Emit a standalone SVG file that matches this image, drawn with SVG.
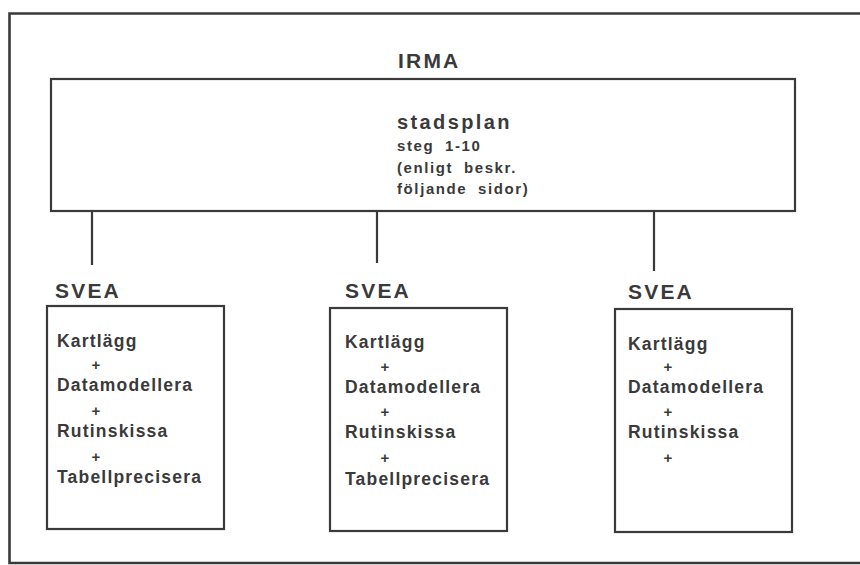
<svg xmlns="http://www.w3.org/2000/svg" width="860" height="565" viewBox="0 0 860 565">
  <style>
    .box { fill: none; stroke: #3a3a3a; stroke-width: 2.2; }
    .frame { fill: none; stroke: #3a3a3a; stroke-width: 2.6; }
    .link { stroke: #3a3a3a; stroke-width: 2.2; fill: none; }
    text { font-family: "Liberation Sans", Arial, sans-serif; font-weight: bold; fill: #3a3a3a; }
    .title { font-size: 21px; letter-spacing: 2.2px; }
    .head { font-size: 20px; letter-spacing: 2.4px; }
    .sub { font-size: 15px; letter-spacing: 1.6px; word-spacing: 5px; }
    .step { font-size: 17.5px; letter-spacing: 1.2px; }
    .plus { font-size: 15px; text-anchor: middle; }
  </style>

  <!-- page frame, open to the right -->
  <path class="frame" d="M 870 13.5 H 9.5 V 563 H 870"/>

  <!-- IRMA master plan -->
  <g id="irma">
    <text class="title" x="398" y="68">IRMA</text>
    <rect class="box" x="51" y="79" width="744" height="132"/>
    <text class="head" x="397" y="129">stadsplan</text>
    <text class="sub" x="397" y="151">steg 1-10</text>
    <text class="sub" x="397" y="173">(enligt beskr.</text>
    <text class="sub" x="397" y="194">följande sidor)</text>
  </g>

  <!-- links from IRMA down to each SVEA -->
  <g id="connectors">
    <line class="link" x1="92" y1="211" x2="92" y2="265"/>
    <line class="link" x1="377" y1="211" x2="377" y2="263"/>
    <line class="link" x1="654" y1="211" x2="654" y2="271"/>
  </g>

  <g id="svea1">
    <text class="title" x="55" y="298">SVEA</text>
    <rect class="box" x="47" y="306" width="177" height="223"/>
    <text class="step" x="57" y="347">Kartlägg</text>
    <text class="plus" x="96" y="370">+</text>
    <text class="step" x="57" y="391">Datamodellera</text>
    <text class="plus" x="96" y="416">+</text>
    <text class="step" x="57" y="437">Rutinskissa</text>
    <text class="plus" x="96" y="462">+</text>
    <text class="step" x="57" y="483">Tabellprecisera</text>
  </g>

  <g id="svea2">
    <text class="title" x="345" y="298">SVEA</text>
    <rect class="box" x="330" y="308" width="177" height="223"/>
    <text class="step" x="345" y="348">Kartlägg</text>
    <text class="plus" x="385" y="372">+</text>
    <text class="step" x="345" y="393">Datamodellera</text>
    <text class="plus" x="385" y="417">+</text>
    <text class="step" x="345" y="438">Rutinskissa</text>
    <text class="plus" x="385" y="463">+</text>
    <text class="step" x="345" y="485">Tabellprecisera</text>
  </g>

  <g id="svea3">
    <text class="title" x="628" y="299">SVEA</text>
    <rect class="box" x="615" y="309" width="177" height="223"/>
    <text class="step" x="628" y="350">Kartlägg</text>
    <text class="plus" x="668" y="372">+</text>
    <text class="step" x="628" y="393">Datamodellera</text>
    <text class="plus" x="668" y="417">+</text>
    <text class="step" x="628" y="438">Rutinskissa</text>
    <text class="plus" x="668" y="463">+</text>
  </g>
</svg>
